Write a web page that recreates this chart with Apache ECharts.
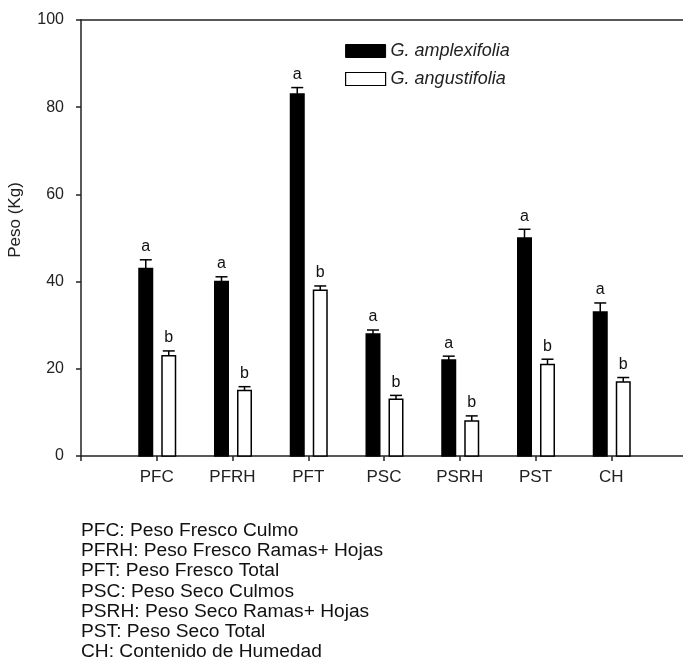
<!DOCTYPE html>
<html>
<head>
<meta charset="utf-8">
<script src="https://cdn.jsdelivr.net/npm/echarts@6/dist/echarts.min.js"></script>
<style>
  html, body { margin: 0; padding: 0; background: #fff; }
  #chart { width: 683px; height: 661px; }
</style>
</head>
<body>
<div id="chart"></div>
<script>
const categories = ["PFC", "PFRH", "PFT", "PSC", "PSRH", "PST", "CH"];
const amplexifolia = [43, 40, 83, 28, 22, 50, 33];
const amplexifoliaErr = [2, 1.1, 1.5, 0.9, 0.9, 2, 2.1];
const amplexifoliaLetters = ["a", "a", "a", "a", "a", "a", "a"];
const angustifolia = [23, 15, 38, 13, 8, 21, 17];
const angustifoliaErr = [1.1, 0.9, 1, 0.9, 1.2, 1.2, 1];
const angustifoliaLetters = ["b", "b", "b", "b", "b", "b", "b"];
const yTicks = [0, 20, 40, 60, 80, 100];
const notes = [
  "PFC: Peso Fresco Culmo",
  "PFRH: Peso Fresco Ramas+ Hojas",
  "PFT: Peso Fresco Total",
  "PSC: Peso Seco Culmos",
  "PSRH: Peso Seco Ramas+ Hojas",
  "PST: Peso Seco Total",
  "CH: Contenido de Humedad",
];

const font = "Liberation Sans, Arial, sans-serif";
const axisColor = "#222";

// bar drawn by hand so the two species sit left/right of the tick
function barRenderer(offsetPx, fill) {
  return (params, api) => {
    const x = api.value(0);
    const v = api.value(1);
    const err = api.value(2);
    const base = api.coord([x, 0]);
    const top = api.coord([x, v]);
    const errTop = api.coord([x, v + err]);
    const cx = base[0] + offsetPx;
    const bw = 15;
    const cap = 12;
    return {
      type: "group",
      children: [
        {
          type: "line",
          shape: { x1: cx, y1: top[1], x2: cx, y2: errTop[1] },
          style: { stroke: "#000", lineWidth: 1.5 },
        },
        {
          type: "line",
          shape: { x1: cx - cap / 2, y1: errTop[1], x2: cx + cap / 2, y2: errTop[1] },
          style: { stroke: "#000", lineWidth: 1.5 },
        },
        {
          type: "rect",
          shape: { x: cx - bw / 2 + 0.75, y: top[1], width: bw - 1.5, height: base[1] - top[1] },
          style: { fill: fill, stroke: "#000", lineWidth: 1.5 },
        },
        {
          type: "text",
          style: {
            text: api.value(3),
            x: cx,
            y: errTop[1] - 5,
            align: "center",
            verticalAlign: "bottom",
            fontSize: 16,
            fontFamily: font,
            fill: "#111",
          },
        },
      ],
    };
  };
}

const ampData = categories.map((c, i) => [i + 1, amplexifolia[i], amplexifoliaErr[i], amplexifoliaLetters[i]]);
const angData = categories.map((c, i) => [i + 1, angustifolia[i], angustifoliaErr[i], angustifoliaLetters[i]]);

const opt = {
  animation: false,
  backgroundColor: "#fff",
  // width runs past the canvas so the x range 0..8 ends off-screen
  grid: { left: 81, top: 20, width: 606, height: 436, outerBoundsMode: "none" },
  legend: {
    orient: "vertical",
    left: 345,
    top: 42,
    padding: 0,
    itemWidth: 40,
    itemHeight: 13,
    itemGap: 10,
    icon: "rect",
    textStyle: { fontSize: 18, fontStyle: "italic", fontFamily: font, color: "#222" },
    data: [
      { name: "G. amplexifolia", itemStyle: { color: "#000", borderColor: "#000", borderWidth: 1 } },
      { name: "G. angustifolia", itemStyle: { color: "#fff", borderColor: "#000", borderWidth: 1.2 } },
    ],
  },
  xAxis: [
    {
      type: "value",
      min: 0,
      max: 8,
      interval: 1,
      splitLine: { show: false },
      axisLine: { lineStyle: { color: axisColor, width: 1.5 } },
      axisTick: {
        length: 5,
        lineStyle: { color: axisColor, width: 1.5 },
      },
      axisLabel: {
        fontSize: 17,
        fontFamily: font,
        color: "#222",
        margin: 13,
        formatter: (v) => categories[v - 1] || "",
      },
    },
    {
      type: "value",
      position: "top",
      min: 0,
      max: 8,
      axisLine: { show: true, lineStyle: { color: axisColor, width: 1.5 } },
      axisTick: { show: false },
      axisLabel: { show: false },
      splitLine: { show: false },
    },
  ],
  yAxis: {
    type: "value",
    min: yTicks[0],
    max: yTicks[yTicks.length - 1],
    interval: 20,
    splitLine: { show: false },
    axisLine: { show: true, lineStyle: { color: axisColor, width: 1.5 } },
    axisTick: { show: true, length: 5, lineStyle: { color: axisColor, width: 1.5 } },
    axisLabel: { fontSize: 16, fontFamily: font, color: "#222", margin: 17 },
  },
  series: [
    {
      name: "G. amplexifolia",
      type: "custom",
      renderItem: barRenderer(-11, "#000"),
      itemStyle: { color: "#000" },
      encode: { x: 0, y: 1 },
      data: ampData,
      z: 3,
    },
    {
      name: "G. angustifolia",
      type: "custom",
      renderItem: barRenderer(12, "#fff"),
      itemStyle: { color: "#fff" },
      encode: { x: 0, y: 1 },
      data: angData,
      z: 3,
    },
  ],
  graphic: [
    {
      type: "text",
      x: 15,
      y: 220,
      rotation: Math.PI / 2,
      style: {
        text: "Peso (Kg)",
        align: "center",
        verticalAlign: "middle",
        fontSize: 17,
        fontFamily: font,
        fill: "#222",
      },
    },
    {
      type: "text",
      x: 81,
      y: 521,
      scaleX: 1.065,
      style: {
        text: notes.join("\n"),
        fontSize: 18,
        lineHeight: 20.2,
        fontFamily: font,
        fill: "#111",
      },
    },
  ],
};

echarts.init(document.getElementById("chart")).setOption(opt);
</script>
</body>
</html>
